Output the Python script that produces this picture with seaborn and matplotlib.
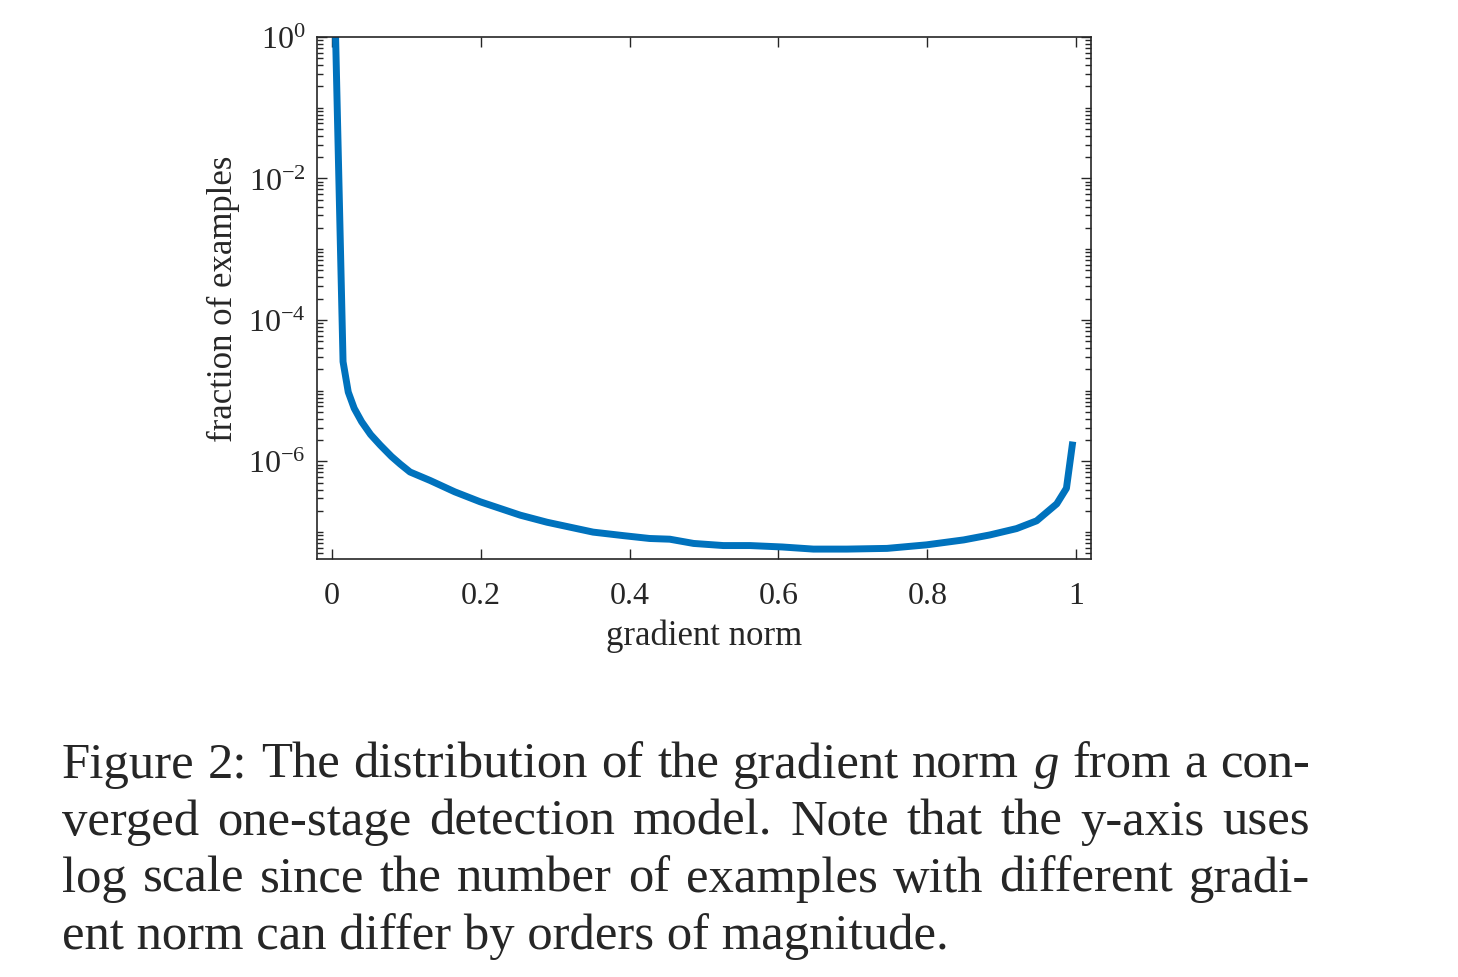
import matplotlib
matplotlib.use("Agg")
import matplotlib.pyplot as plt
import matplotlib.ticker as mticker
import seaborn as sns
import numpy as np
import pandas as pd

# значения
grad_norm = [0.005, 0.015, 0.022, 0.030, 0.040, 0.052, 0.065, 0.080, 0.092,
             0.105, 0.132, 0.165, 0.199, 0.253, 0.289, 0.351, 0.392, 0.427,
             0.454, 0.486, 0.526, 0.562, 0.605, 0.647, 0.692, 0.746, 0.799,
             0.849, 0.884, 0.920, 0.947, 0.974, 0.987, 0.9955]
log_fraction = [0.0, -4.59, -5.02, -5.25, -5.44, -5.62, -5.77, -5.93, -6.04,
                -6.15, -6.27, -6.43, -6.57, -6.76, -6.86, -7.00, -7.05, -7.09,
                -7.10, -7.16, -7.19, -7.19, -7.21, -7.24, -7.24, -7.23, -7.18,
                -7.11, -7.04, -6.95, -6.84, -6.60, -6.38, -5.72]

caption_lines = [
    r"Figure 2: The distribution of the gradient norm $\mathit{g}$ from a con-",
    "verged one-stage detection model. Note that the y-axis uses",
    "log scale since the number of examples with different gradi-",
    "ent norm can differ by orders of magnitude.",
]

df = pd.DataFrame({"g": grad_norm, "frac": 10.0 ** np.array(log_fraction)})

sns.set_style("ticks")
plt.rcParams["font.family"] = ["Liberation Serif", "DejaVu Serif"]
plt.rcParams["mathtext.fontset"] = "custom"
plt.rcParams["mathtext.rm"] = "Liberation Serif"
plt.rcParams["mathtext.it"] = "Liberation Serif:italic"

W, H = 1458, 978
fig = plt.figure(figsize=(W / 100, H / 100), dpi=100)
ax = fig.add_axes([317 / W, 1 - 560 / H, (1091 - 317) / W, (560 - 38) / H])

sns.lineplot(data=df, x="g", y="frac", ax=ax, color="#0072BD", linewidth=5,
             solid_capstyle="butt")
ax.set_yscale("log")
ax.set_xlim(-0.02, 1.02)
ax.set_ylim(10 ** -7.38, 1.0)

ax.set_xticks([0, 0.2, 0.4, 0.6, 0.8, 1.0])
ax.set_xticklabels(["0", "0.2", "0.4", "0.6", "0.8", "1"])
ax.yaxis.set_major_locator(mticker.FixedLocator([1e-6, 1e-4, 1e-2, 1e0]))
ax.yaxis.set_major_formatter(mticker.FixedFormatter(
    [r"$\mathregular{10^{-6}}$", r"$\mathregular{10^{-4}}$",
     r"$\mathregular{10^{-2}}$", r"$\mathregular{10^{0}}$"]))
ax.yaxis.set_minor_locator(mticker.LogLocator(base=10, subs=np.arange(1, 10), numticks=50))
ax.yaxis.set_minor_formatter(mticker.NullFormatter())

ax.tick_params(which="both", direction="in", top=True, right=True,
               labelsize=23, color="#262626", labelcolor="#262626")
ax.tick_params(which="major", length=7, width=1)
ax.tick_params(which="minor", length=4, width=1)
ax.tick_params(axis="x", pad=16)
ax.tick_params(axis="y", pad=8)
for sp in ax.spines.values():
    sp.set_visible(True)
    sp.set_linewidth(1.2)
    sp.set_color("#262626")

ax.set_xlabel("gradient norm", fontsize=25, color="#262626", labelpad=6)
ax.set_ylabel("fraction of examples", fontsize=25, color="#262626", labelpad=6)

# подпись с выравниванием по ширине
renderer = fig.canvas.get_renderer()
x_left, x_right = 62 / W, 1310 / W
for i, line in enumerate(caption_lines):
    y = 1 - (778 + 57 * i) / H
    if i == len(caption_lines) - 1:
        fig.text(x_left, y, line, fontsize=36.5, ha="left", va="baseline")
        continue
    words = line.split(" ")
    texts = [fig.text(0, y, w, fontsize=36.5, ha="left", va="baseline") for w in words]
    widths = [t.get_window_extent(renderer).width / W for t in texts]
    gap = ((x_right - x_left) - sum(widths)) / (len(words) - 1)
    x = x_left
    for t, w in zip(texts, widths):
        t.set_x(x)
        x += w + gap

fig.savefig("out.png", dpi=100)
